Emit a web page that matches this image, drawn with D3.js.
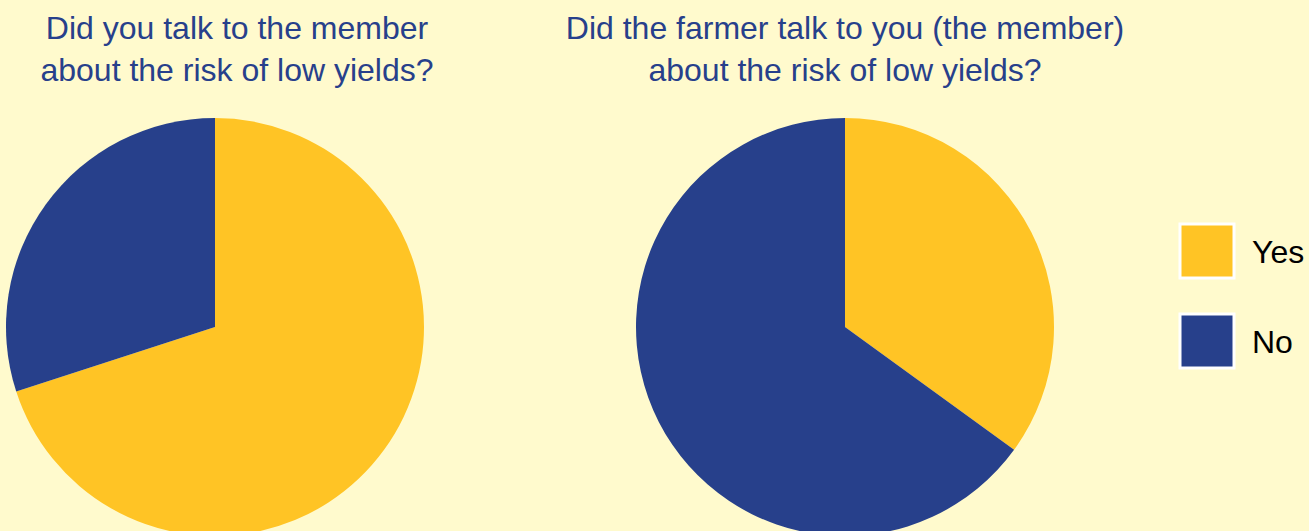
<!DOCTYPE html>
<html>
<head>
<meta charset="utf-8">
<script src="https://cdn.jsdelivr.net/npm/d3@7"></script>
<style>
  body { margin: 0; background: #FFFACD; overflow: hidden; }
  text { font-family: "Liberation Sans", Helvetica, Arial, sans-serif; }
</style>
</head>
<body>
<svg></svg>
<script>
// Data
const categories = ["Yes", "No"];
const memberValues = [70, 30];   // Did you talk to the member
const farmerValues = [35, 65];   // Did the farmer talk to you
const titles = [
  ["Did you talk to the member", "about the risk of low yields?"],
  ["Did the farmer talk to you (the member)", "about the risk of low yields?"]
];

// Sizes
const width = 1309;
const height = 531;
const radius = 209;

const svg = d3.select("svg")
  .attr("width", width)
  .attr("height", height);

svg.append("rect")
  .attr("width", width)
  .attr("height", height)
  .attr("fill", "#FFFACD");

const color = d3.scaleOrdinal()
  .domain(categories)
  .range(["#FFC425", "#27408B"]);

const pie = d3.pie().sort(null).value(d => d.value);
const arc = d3.arc().innerRadius(0).outerRadius(radius);

const charts = [
  { values: memberValues, cx: 215, tx: 237, title: titles[0] },
  { values: farmerValues, cx: 845, tx: 845, title: titles[1] }
];

charts.forEach(c => {
  const data = categories.map((k, i) => ({ key: k, value: c.values[i] }));

  svg.append("g")
    .attr("transform", `translate(${c.cx}, 327)`)
    .selectAll("path")
    .data(pie(data))
    .join("path")
      .attr("d", arc)
      .attr("fill", d => color(d.data.key));

  // title, two lines
  svg.append("text")
    .attr("x", c.tx)
    .attr("text-anchor", "middle")
    .attr("font-size", 32)
    .attr("fill", "#27408B")
    .selectAll("tspan")
    .data(c.title)
    .join("tspan")
      .attr("x", c.tx)
      .attr("y", (d, i) => 39 + i * 42)
      .text(d => d);
});

// Legend
const legend = svg.append("g")
  .attr("transform", "translate(1180, 224)");

const item = legend.selectAll("g")
  .data(categories)
  .join("g")
    .attr("transform", (d, i) => `translate(0, ${i * 90})`);

item.append("rect")
  .attr("width", 54)
  .attr("height", 54)
  .attr("fill", d => color(d))
  .attr("stroke", "#ffffff")
  .attr("stroke-width", 3);

item.append("text")
  .attr("x", 72)
  .attr("y", 39)
  .attr("font-size", 32)
  .attr("fill", "#000")
  .text(d => d);
</script>
</body>
</html>
